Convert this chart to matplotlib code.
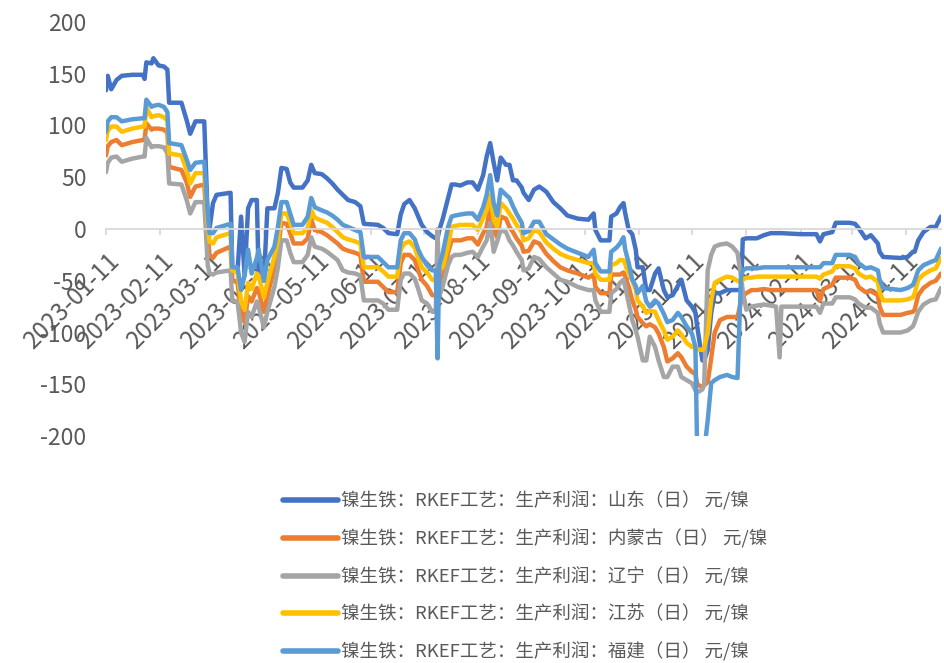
import matplotlib
matplotlib.use("Agg")
import matplotlib.pyplot as plt
import matplotlib.dates as mdates
from matplotlib.lines import Line2D
import pandas as pd

# Daily production profit of RKEF nickel pig iron, yuan per nickel point
dates = [
    "2023-01-11", "2023-01-12", "2023-01-14", "2023-01-17", "2023-01-20", "2023-01-26",
    "2023-02-01", "2023-02-02", "2023-02-03", "2023-02-06", "2023-02-07", "2023-02-10",
    "2023-02-13", "2023-02-15", "2023-02-16", "2023-02-23", "2023-02-26", "2023-02-28",
    "2023-03-03", "2023-03-08", "2023-03-10", "2023-03-11", "2023-03-13", "2023-03-15",
    "2023-03-23", "2023-03-24", "2023-03-27", "2023-03-29", "2023-03-31", "2023-04-02",
    "2023-04-04", "2023-04-07", "2023-04-08", "2023-04-11", "2023-04-13", "2023-04-17",
    "2023-04-19", "2023-04-21", "2023-04-24", "2023-04-26", "2023-04-28", "2023-05-03",
    "2023-05-06", "2023-05-08", "2023-05-10", "2023-05-14", "2023-05-17", "2023-05-20",
    "2023-05-23", "2023-05-26", "2023-05-29", "2023-06-02", "2023-06-05", "2023-06-07",
    "2023-06-15", "2023-06-18", "2023-06-21", "2023-06-26", "2023-06-28", "2023-06-30",
    "2023-07-03", "2023-07-06", "2023-07-08", "2023-07-10", "2023-07-13", "2023-07-16",
    "2023-07-18", "2023-07-19", "2023-07-20", "2023-07-22", "2023-07-25", "2023-07-27",
    "2023-07-29", "2023-08-01", "2023-08-05", "2023-08-08", "2023-08-11", "2023-08-14",
    "2023-08-16", "2023-08-18", "2023-08-20", "2023-08-22", "2023-08-24", "2023-08-27",
    "2023-08-29", "2023-08-31", "2023-09-02", "2023-09-05", "2023-09-06", "2023-09-09",
    "2023-09-12", "2023-09-15", "2023-09-19", "2023-09-23", "2023-09-27", "2023-10-01",
    "2023-10-07", "2023-10-13", "2023-10-16", "2023-10-17", "2023-10-20", "2023-10-25",
    "2023-10-26", "2023-10-29", "2023-10-31", "2023-11-02", "2023-11-03", "2023-11-05",
    "2023-11-07", "2023-11-09", "2023-11-10", "2023-11-13", "2023-11-15", "2023-11-17",
    "2023-11-20", "2023-11-22", "2023-11-25", "2023-11-27", "2023-11-30", "2023-12-03",
    "2023-12-05", "2023-12-08", "2023-12-11", "2023-12-13", "2023-12-14", "2023-12-17",
    "2023-12-18", "2023-12-20", "2023-12-22", "2023-12-24", "2023-12-27", "2023-12-31",
    "2024-01-03", "2024-01-06", "2024-01-08", "2024-01-09", "2024-01-11", "2024-01-14",
    "2024-01-17", "2024-01-21", "2024-01-25", "2024-01-28", "2024-01-30", "2024-01-31",
    "2024-02-11", "2024-02-20", "2024-02-22", "2024-02-24", "2024-02-29", "2024-03-02",
    "2024-03-10", "2024-03-13", "2024-03-15", "2024-03-19", "2024-03-22", "2024-03-26",
    "2024-03-27", "2024-03-29", "2024-04-08", "2024-04-12", "2024-04-15", "2024-04-16",
    "2024-04-18", "2024-04-21", "2024-04-25", "2024-04-28", "2024-05-01",
]

shandong = [
    134, 148, 135, 144, 148, 149, 149, 145, 161, 160, 165, 158,
    157, 154, 122, 122, 105, 92, 104, 104, 10, 0, 25, 33,
    35, -37, -40, 12, -45, 20, 28, 28, -45, -50, 20, 20,
    35, 59, 58, 45, 40, 40, 47, 62, 54, 53, 49, 44,
    38, 33, 28, 26, 22, 5, 4, 1, -4, -5, 14, 24,
    28, 20, 12, 4, -3, -7, -9, -9, -1, 10, 30, 43,
    43, 42, 45, 45, 38, 52, 70, 83, 64, 47, 69, 62,
    62, 47, 47, 40, 35, 28, 38, 41, 36, 26, 20, 13,
    10, 9, 15, -1, -11, -11, 12, 15, 21, 25, 15, -1,
    -5, -20, -37, -37, -59, -59, -43, -38, -59, -66, -64, -55,
    -49, -69, -75, -81, -94, -127, -127, -117, -81, -62, -62, -59,
    -59, -59, -59, -10, -9, -9, -9, -6, -4, -4, -4, -4,
    -5, -5, -12, -5, -3, 6, 6, 5, 1, -9, -6, -14,
    -22, -27, -28, -27, -22, -22, -11, -3, 2, 2, 12,
]

neimenggu = [
    71, 80, 84, 86, 81, 84, 86, 86, 102, 96, 97, 97,
    96, 93, 60, 57, 45, 31, 41, 43, -4, -25, -28, -23,
    -17, -49, -52, -80, -90, -65, -70, -57, -60, -80, -65, -37,
    -20, 6, 5, -4, -14, -14, -9, 9, -1, -3, -6, -10,
    -14, -19, -21, -23, -25, -51, -51, -56, -61, -61, -33, -25,
    -25, -30, -40, -49, -55, -64, -64, -64, -60, -46, -23, -11,
    -11, -11, -9, -9, -15, -4, 2, 21, -1, -8, 12, 10,
    2, -3, -9, -16, -22, -21, -12, -14, -24, -31, -37, -40,
    -43, -47, -44, -56, -62, -62, -44, -44, -44, -42, -46, -56,
    -69, -78, -85, -91, -94, -92, -95, -101, -114, -128, -125, -120,
    -124, -133, -138, -140, -150, -153, -151, -148, -125, -100, -88, -85,
    -85, -85, -70, -65, -62, -59, -59, -58, -59, -59, -59, -59,
    -59, -59, -69, -58, -54, -47, -47, -49, -56, -61, -60, -64,
    -75, -83, -83, -81, -80, -78, -64, -57, -52, -50, -43,
]

liaoning = [
    55, 64, 69, 70, 65, 68, 70, 70, 88, 79, 80, 80,
    79, 73, 44, 43, 28, 15, 26, 26, -35, -43, -44, -42,
    -40, -69, -70, -100, -109, -80, -85, -70, -75, -95, -80, -56,
    -37, -11, -11, -23, -32, -32, -25, -8, -17, -19, -22, -26,
    -30, -40, -42, -43, -45, -69, -69, -72, -78, -78, -49, -43,
    -43, -48, -58, -69, -72, -80, -80, 0, -65, -55, -35, -27,
    -25, -25, -23, -22, -27, -17, -11, 6, -22, -12, -1, -3,
    -11, -16, -22, -30, -40, -38, -27, -29, -37, -43, -49, -51,
    -56, -59, -59, -69, -80, -80, -62, -58, -52, -49, -56, -72,
    -88, -98, -104, -127, -127, -104, -114, -127, -143, -143, -133, -133,
    -143, -146, -149, -156, -158, -155, -150, -40, -25, -17, -15, -14,
    -17, -23, -46, -60, -78, -75, -74, -73, -74, -75, -124, -75,
    -75, -75, -81, -72, -72, -66, -66, -68, -72, -76, -76, -81,
    -91, -100, -100, -98, -94, -90, -80, -73, -69, -68, -57,
]

jiangsu = [
    86, 95, 99, 99, 94, 97, 99, 99, 117, 108, 109, 110,
    108, 105, 73, 71, 57, 44, 54, 54, 7, -12, -14, -8,
    -4, -40, -42, -70, -78, -52, -58, -43, -45, -66, -52, -27,
    -11, 15, 15, 6, -4, -4, 1, 18, 11, 8, 6, 2,
    -3, -8, -10, -12, -14, -37, -37, -41, -46, -46, -20, -14,
    -12, -18, -28, -37, -42, -49, -50, -50, -40, -37, -17, 2,
    3, 4, 4, 4, -1, 11, 18, 33, 9, 2, 25, 20,
    15, 10, 4, -3, -11, -9, -1, -3, -13, -19, -24, -27,
    -30, -33, -33, -43, -49, -49, -35, -33, -30, -30, -34, -43,
    -49, -59, -69, -75, -81, -79, -80, -88, -98, -107, -104, -98,
    -102, -110, -114, -114, -116, -117, -114, -101, -69, -52, -49, -46,
    -47, -50, -52, -49, -47, -47, -46, -46, -46, -46, -46, -46,
    -46, -46, -48, -44, -41, -36, -36, -38, -43, -47, -46, -51,
    -61, -69, -69, -68, -66, -62, -49, -44, -40, -38, -28,
]

fujian = [
    94, 104, 108, 108, 104, 106, 107, 107, 125, 118, 119, 120,
    118, 113, 83, 81, 67, 57, 64, 65, 15, -4, -4, 1,
    5, -37, -37, -59, -45, -20, -43, -28, -20, -50, -30, -17,
    2, 26, 26, 15, 4, 4, 12, 30, 21, 18, 16, 13,
    9, 4, 2, -1, -3, -27, -27, -32, -37, -37, -11, -4,
    -4, -10, -20, -27, -35, -40, -40, -125, -35, -23, 2, 12,
    13, 14, 15, 15, 9, 21, 33, 52, 25, 13, 38, 33,
    30, 22, 15, 6, -4, -2, 7, 7, -5, -10, -15, -19,
    -23, -27, -20, -33, -41, -41, -22, -18, -14, -8, -20, -33,
    -49, -55, -62, -55, -70, -75, -69, -72, -82, -90, -88, -81,
    -85, -94, -101, -114, -215, -215, -215, -185, -149, -146, -143, -141,
    -143, -144, -46, -40, -38, -38, -38, -37, -37, -37, -37, -37,
    -37, -37, -37, -33, -33, -25, -25, -27, -33, -38, -37, -40,
    -49, -57, -59, -57, -54, -50, -40, -35, -32, -30, -19,
]

series_labels = [
    "镍生铁：RKEF工艺：生产利润：山东（日） 元/镍",
    "镍生铁：RKEF工艺：生产利润：内蒙古（日） 元/镍",
    "镍生铁：RKEF工艺：生产利润：辽宁（日） 元/镍",
    "镍生铁：RKEF工艺：生产利润：江苏（日） 元/镍",
    "镍生铁：RKEF工艺：生产利润：福建（日） 元/镍",
]
series_colors = ["#4472C4", "#ED7D31", "#A5A5A5", "#FFC000", "#5B9BD5"]
series_values = [shandong, neimenggu, liaoning, jiangsu, fujian]

tick_dates = pd.date_range("2023-01-11", "2024-04-11", freq=pd.DateOffset(months=1))

plt.rcParams["font.family"] = ["Noto Sans CJK SC", "DejaVu Sans"]
plt.rcParams["axes.unicode_minus"] = False
text_color = "#595959"
axis_color = "#D9D9D9"

W, H = 945, 663
fig = plt.figure(figsize=(W / 100, H / 100), dpi=100)
ax = fig.add_axes([106 / W, 1 - 436 / H, 835 / W, 414 / H])

x = pd.to_datetime(dates)
for vals, col, lab in zip(series_values, series_colors, series_labels):
    ax.plot(x, vals, color=col, lw=3.2, solid_joinstyle="round",
            solid_capstyle="round", label=lab)

ax.set_ylim(-200, 200)
ax.set_xlim(x[0], x[-1])
ax.set_yticks(range(-200, 201, 50))

for side in ("left", "right", "top"):
    ax.spines[side].set_visible(False)
ax.spines["bottom"].set_position(("data", 0))
ax.spines["bottom"].set_color(axis_color)
ax.spines["bottom"].set_linewidth(1.3)

ax.tick_params(axis="y", length=0, pad=14, labelsize=16.5, labelcolor=text_color)
ax.set_xticks(tick_dates)
ax.xaxis.set_major_formatter(mdates.DateFormatter("%Y-%m-%d"))
ax.tick_params(axis="x", length=4.2, width=1.3, color=axis_color, pad=10,
               labelsize=17.3, labelcolor=text_color)
for lbl in ax.get_xticklabels():
    lbl.set_rotation(45)
    lbl.set_ha("right")
    lbl.set_va("top")
    lbl.set_rotation_mode("anchor")

handles = [Line2D([], [], color=c, lw=4.0, solid_capstyle="round") for c in series_colors]
fig.legend(handles, series_labels, loc="upper left",
           bbox_to_anchor=(283 / W, 1 - 491 / H), frameon=False,
           fontsize=13.3, handlelength=3.0, handletextpad=0.15,
           labelspacing=1.0, borderpad=0, borderaxespad=0,
           labelcolor=text_color)

fig.savefig("out.png", dpi=100)
